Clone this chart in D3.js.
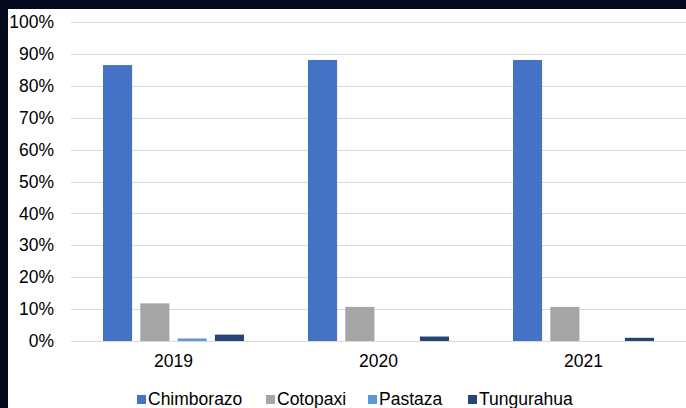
<!DOCTYPE html>
<html><head><meta charset="utf-8">
<script src="https://cdn.jsdelivr.net/npm/d3@7"></script>
<style>html,body{margin:0;padding:0;background:#030a1c;}svg{display:block;}</style>
</head><body>
<script>
const categories = ["2019", "2020", "2021"];
const seriesNames = ["Chimborazo", "Cotopaxi", "Pastaza", "Tungurahua"];
const chimborazo = [86.5, 88.1, 88.1];
const cotopaxi = [11.8, 10.7, 10.7];
const pastaza = [0.8, 0, 0];
const tungurahua = [2.0, 1.4, 1.0];
const yTicks = [0, 10, 20, 30, 40, 50, 60, 70, 80, 90, 100];
const colors = ["#4472C4", "#A5A5A5", "#5B9BD5", "#264478"];

(function () {
const seriesValues = [chimborazo, cotopaxi, pastaza, tungurahua];
const W = 686, H = 408;
const svg = d3.select("body").append("svg").attr("width", W).attr("height", H);
svg.append("rect").attr("width", W).attr("height", H).attr("fill", "#030a1c");
svg.append("rect").attr("x", 8).attr("y", 9).attr("width", W - 8).attr("height", H - 9).attr("fill", "#fff");

const mLeft = 71, mRight = 686, mTop = 22, mBottom = 341;
const font = "'Liberation Sans', Arial, sans-serif";
const x0 = d3.scaleBand().domain(categories).range([mLeft, mRight]).paddingInner(0).paddingOuter(0);
const x1 = d3.scaleBand().domain(seriesNames).range([32, 173]).paddingInner(0.22).paddingOuter(0);
const y = d3.scaleLinear().domain([0, 100]).range([mBottom, mTop]);

// gridlines
svg.append("g").selectAll("line").data(yTicks).join("line")
  .attr("x1", mLeft).attr("x2", mRight)
  .attr("y1", d => Math.round(y(d)) + 0.5).attr("y2", d => Math.round(y(d)) + 0.5)
  .attr("stroke", "#d9d9d9").attr("stroke-width", 1);

// y axis labels
const yAxis = d3.axisLeft(y).tickValues(yTicks).tickFormat(d => d + "%").tickSize(0).tickPadding(0);
const ya = svg.append("g").attr("transform", `translate(54,0)`).call(yAxis);
ya.select(".domain").remove();
ya.selectAll("text").attr("font-family", font).attr("font-size", 17.5).attr("fill", "#000");

// bars
const groups = svg.append("g").selectAll("g").data(categories).join("g")
  .attr("transform", d => `translate(${x0(d)},0)`);
groups.selectAll("rect").data((c, i) => seriesNames.map((s, j) => ({s, v: seriesValues[j][i], j})))
  .join("rect")
  .attr("x", d => x1(d.s)).attr("width", x1.bandwidth())
  .attr("y", d => y(d.v)).attr("height", d => mBottom - y(d.v))
  .attr("fill", d => colors[d.j]);

// x axis labels
const xAxis = d3.axisBottom(x0).tickSize(0).tickPadding(0);
const xa = svg.append("g").attr("transform", `translate(0,${mBottom + 14})`).call(xAxis);
xa.select(".domain").remove();
xa.selectAll("text").attr("font-family", font).attr("font-size", 17.5).attr("fill", "#000").attr("dy", "0.71em");

// legend
const legendX = [137, 266, 368, 468];
const lg = svg.append("g").selectAll("g").data(seriesNames).join("g")
  .attr("transform", (d, i) => `translate(${legendX[i]},0)`);
lg.append("rect").attr("x", 0).attr("y", 395).attr("width", 9).attr("height", 9).attr("fill", (d, i) => colors[i]);
lg.append("text").attr("x", 11).attr("y", 405).text(d => d)
  .attr("font-family", font).attr("font-size", 17.5).attr("fill", "#000");
})();
</script>
</body></html>
